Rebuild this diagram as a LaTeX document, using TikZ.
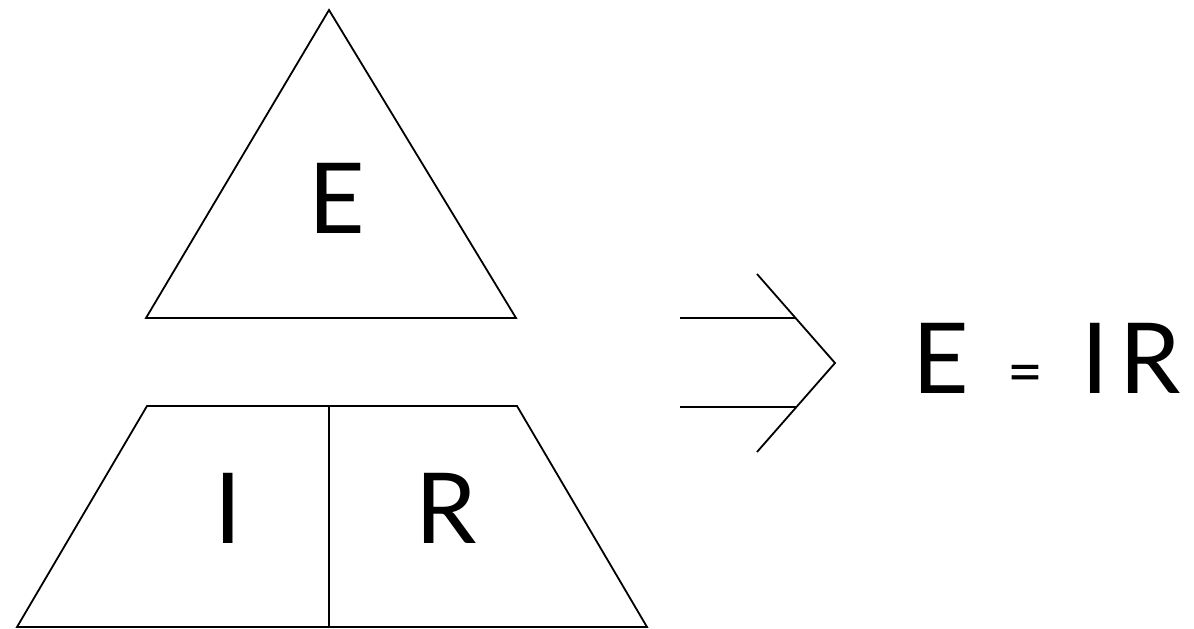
\documentclass[tikz,border=0pt]{standalone}
\usepackage{fontspec}
\setmainfont{Lato}
\begin{document}
\begin{tikzpicture}[x=1pt,y=-1pt,
  edge/.style={line width=1.8pt, line join=miter, line cap=butt},
  big/.style={inner sep=0pt, anchor=base, font=\fontsize{98}{98}\selectfont},
  small/.style={inner sep=0pt, font=\fontsize{62}{62}\selectfont}]
\useasboundingbox (0,0) rectangle (1194,629);
% triangle
\coordinate (tA) at (329,10);
\coordinate (tL) at (146,318);
\coordinate (tR) at (516,318);
\draw[edge] (tL) -- (tA) -- (tR) -- cycle;
% trapezoid
\coordinate (zTL) at (147,406);
\coordinate (zTR) at (517,406);
\coordinate (zBR) at (647,627);
\coordinate (zBL) at (17,627);
\coordinate (zTM) at (329,406);
\coordinate (zBM) at (329,627);
\draw[edge] (zTL) -- (zTR) -- (zBR) -- (zBL) -- cycle;
\draw[edge] (zTM) -- (zBM);
% labels
\node[big] (e) at (337,233) {E};
\node[big] (i) at (228,543) {I};
\node[big] (r) at (446,543) {R};
% arrow
\coordinate (a1s) at (680,318);
\coordinate (a1e) at (796,318);
\coordinate (a2s) at (680,407);
\coordinate (a2e) at (796,407);
\coordinate (cT) at (757,274);
\coordinate (cM) at (835,363);
\coordinate (cB) at (757,452);
\draw[edge] (a1s) -- (a1e);
\draw[edge] (a2s) -- (a2e);
\draw[edge] (cT) -- (cM) -- (cB);
% equation
\node[big] (eqE) at (941,393) {E};
\node[small] (eqs) at (1025,379) {=};
\node[big] (eqIR) at (1131,393) {I\kern10pt R};
\end{tikzpicture}
\end{document}
